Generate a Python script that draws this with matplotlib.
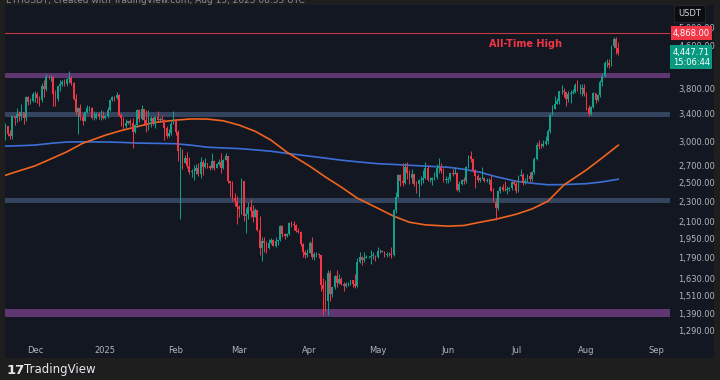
import pandas as pd
import matplotlib
matplotlib.use('Agg')
import matplotlib.pyplot as plt
import matplotlib.dates as mdates
import matplotlib.transforms as mtransforms
from matplotlib.patches import Rectangle
from matplotlib.ticker import FixedLocator, FuncFormatter, NullLocator

# ETH/USDT daily candles, 2024-11-18 .. 2025-08-15
start_date = '2024-11-18'
first_open = 3075

closes = [
    # Nov
    3210, 3105, 3070, 3355, 3327, 3395, 3360, 3415, 3325, 3655, 3580, 3590, 3705,
    # Dec
    3715, 3645, 3615, 3835, 3785, 4005, 4000, 4005, 3710, 3625, 3835, 3880, 3905, 3870, 3960, 3985,
    3890, 3630, 3420, 3480, 3340, 3280, 3420, 3490, 3490, 3330, 3335, 3395, 3355, 3355, 3330,
    # Jan
    3355, 3450, 3605, 3655, 3635, 3685, 3380, 3325, 3220, 3265, 3280, 3265, 3135, 3225, 3450, 3310,
    3475, 3305, 3215, 3285, 3330, 3245, 3340, 3305, 3315, 3300, 3180, 3080, 3115, 3245, 3300,
    # Feb
    3125, 2870, 2880, 2730, 2785, 2685, 2620, 2630, 2630, 2660, 2600, 2740, 2675, 2725, 2695, 2660,
    2745, 2670, 2715, 2740, 2665, 2765, 2815, 2510, 2490, 2335, 2305, 2235,
    # Mar
    2215, 2520, 2150, 2170, 2240, 2200, 2140, 2205, 2020, 1865, 1920, 1910, 1865, 1910, 1935, 1885,
    1925, 1930, 2055, 1985, 1965, 1985, 2085, 2080, 2065, 2010, 2000, 1895, 1830, 1805, 1820,
    # Apr
    1905, 1795, 1815, 1815, 1805, 1580, 1555, 1470, 1670, 1520, 1565, 1645, 1595, 1625, 1585, 1575,
    1585, 1585, 1615, 1585, 1575, 1755, 1795, 1770, 1785, 1790, 1790, 1800, 1800, 1795,
    # May
    1840, 1840, 1835, 1805, 1815, 1815, 1810, 2205, 2345, 2580, 2515, 2490, 2680, 2610, 2545, 2595,
    2485, 2480, 2525, 2525, 2550, 2665, 2525, 2530, 2550, 2565, 2660, 2680, 2635, 2530, 2530,
    # Jun
    2540, 2610, 2595, 2610, 2415, 2485, 2525, 2510, 2680, 2815, 2770, 2645, 2575, 2525, 2545, 2550,
    2510, 2525, 2525, 2410, 2295, 2230, 2405, 2450, 2420, 2415, 2425, 2435, 2500, 2485,
    # Jul
    2405, 2570, 2585, 2495, 2515, 2575, 2540, 2615, 2770, 2955, 2945, 2940, 2970, 3010, 3140, 3370,
    3475, 3545, 3590, 3755, 3760, 3745, 3620, 3705, 3725, 3740, 3865, 3795, 3795, 3805, 3700,
    # Aug
    3480, 3395, 3495, 3720, 3610, 3685, 3910, 4015, 4255, 4265, 4220, 4600, 4750, 4555, 4447.71,
]

highs = [
    3260, 3220, 3160, 3375, 3360, 3490, 3440, 3540, 3425, 3680, 3680, 3645, 3735,
    3760, 3745, 3670, 3890, 3950, 4060, 4030, 4040, 4010, 3780, 3840, 3945, 3940, 3970, 3975, 4110,
    4010, 3910, 3700, 3500, 3545, 3400, 3435, 3535, 3515, 3500, 3430, 3420, 3425, 3450, 3430,
    3370, 3500, 3620, 3670, 3670, 3745, 3700, 3410, 3350, 3320, 3290, 3320, 3330, 3250, 3470, 3470,
    3525, 3450, 3450, 3460, 3360, 3340, 3365, 3430, 3350, 3370, 3310, 3210, 3170, 3285, 3440,
    3320, 3160, 2925, 2900, 2820, 2860, 2800, 2650, 2700, 2715, 2720, 2800, 2760, 2790, 2730, 2705,
    2850, 2760, 2730, 2775, 2845, 2780, 2855, 2815, 2520, 2510, 2380, 2350,
    2260, 2550, 2520, 2225, 2290, 2320, 2260, 2225, 2205, 2150, 1960, 1960, 1920, 1945, 1950, 1940,
    1955, 1935, 2070, 2070, 1990, 1995, 2095, 2100, 2100, 2075, 2040, 2015, 1910, 1850, 1860,
    1925, 1960, 1830, 1830, 1820, 1810, 1630, 1620, 1690, 1690, 1570, 1650, 1690, 1660, 1640, 1600,
    1600, 1600, 1620, 1620, 1660, 1785, 1830, 1800, 1830, 1810, 1800, 1850, 1835, 1810,
    1875, 1860, 1850, 1840, 1835, 1830, 1870, 2215, 2390, 2590, 2600, 2730, 2720, 2740, 2640, 2650,
    2600, 2520, 2540, 2570, 2640, 2735, 2700, 2560, 2565, 2615, 2715, 2790, 2730, 2670, 2570,
    2560, 2610, 2655, 2680, 2620, 2515, 2535, 2560, 2690, 2830, 2880, 2790, 2650, 2590, 2560, 2680,
    2560, 2550, 2550, 2580, 2435, 2335, 2420, 2460, 2480, 2520, 2455, 2445, 2510, 2525,
    2520, 2580, 2650, 2610, 2550, 2590, 2620, 2635, 2800, 2990, 3015, 2985, 3025, 3080, 3170, 3400,
    3530, 3680, 3650, 3760, 3860, 3810, 3740, 3760, 3770, 3790, 3890, 3940, 3880, 3880, 3870,
    3745, 3525, 3510, 3735, 3720, 3700, 3940, 4075, 4300, 4330, 4330, 4620, 4780, 4790, 4680,
]

lows = [
    3020, 3080, 3040, 3030, 3230, 3270, 3280, 3300, 3250, 3280, 3535, 3540, 3580,
    3570, 3560, 3520, 3580, 3660, 3760, 3960, 3935, 3520, 3520, 3600, 3760, 3840, 3845, 3850, 3890,
    3860, 3610, 3370, 3100, 3300, 3225, 3280, 3410, 3440, 3310, 3300, 3310, 3310, 3300, 3310,
    3310, 3330, 3430, 3590, 3600, 3620, 3360, 3210, 3160, 3190, 3240, 3220, 2920, 3120, 3200, 3275,
    3300, 3240, 3130, 3160, 3200, 3230, 3180, 3290, 3290, 3280, 3020, 3050, 3060, 3090, 3240,
    3085, 2750, 2125, 2650, 2720, 2660, 2590, 2560, 2530, 2600, 2570, 2545, 2580, 2660, 2660, 2640,
    2650, 2640, 2660, 2700, 2610, 2650, 2765, 2490, 2340, 2300, 2250, 2080,
    2140, 2170, 2100, 1995, 2120, 2140, 2090, 2140, 2010, 1810, 1760, 1835, 1820, 1860, 1895, 1880,
    1870, 1890, 1920, 1955, 1940, 1960, 1975, 2050, 2020, 2000, 1990, 1885, 1790, 1780, 1790,
    1820, 1775, 1770, 1790, 1780, 1540, 1385, 1410, 1385, 1470, 1500, 1550, 1570, 1590, 1580, 1540,
    1565, 1575, 1580, 1570, 1560, 1570, 1745, 1730, 1755, 1780, 1780, 1740, 1775, 1760,
    1785, 1820, 1830, 1790, 1790, 1800, 1780, 1800, 2180, 2330, 2460, 2460, 2480, 2540, 2480, 2490,
    2460, 2385, 2340, 2470, 2490, 2540, 2510, 2500, 2470, 2530, 2540, 2610, 2610, 2500, 2490,
    2490, 2510, 2575, 2590, 2400, 2395, 2470, 2480, 2490, 2665, 2740, 2620, 2440, 2500, 2500, 2540,
    2500, 2500, 2480, 2400, 2290, 2110, 2210, 2380, 2410, 2400, 2375, 2410, 2420, 2465,
    2380, 2395, 2570, 2470, 2480, 2505, 2500, 2515, 2600, 2760, 2900, 2910, 2925, 2950, 2960, 3120,
    3370, 3470, 3550, 3540, 3700, 3660, 3520, 3570, 3560, 3710, 3720, 3750, 3710, 3675, 3680,
    3460, 3360, 3370, 3485, 3560, 3595, 3660, 3850, 4000, 4180, 4160, 4200, 4560, 4440, 4420,
]

# moving averages, about once a week
ma_dates = ['2024-11-18', '2024-11-25', '2024-12-01', '2024-12-08', '2024-12-15', '2024-12-22',
            '2025-01-01', '2025-01-08', '2025-01-15', '2025-01-22', '2025-02-01', '2025-02-08',
            '2025-02-15', '2025-02-22', '2025-03-01', '2025-03-08', '2025-03-15', '2025-03-22',
            '2025-04-01', '2025-04-08', '2025-04-15', '2025-04-22', '2025-05-01', '2025-05-08',
            '2025-05-15', '2025-05-22', '2025-06-01', '2025-06-08', '2025-06-15', '2025-06-22',
            '2025-07-01', '2025-07-08', '2025-07-15', '2025-07-22', '2025-08-01', '2025-08-08',
            '2025-08-15']
sma100 = [2580, 2640, 2690, 2775, 2864, 2975, 3085, 3150, 3205, 3262, 3300, 3318,
          3315, 3290, 3227, 3140, 3018, 2860, 2688, 2560, 2447, 2330, 2228, 2150,
          2092, 2068, 2056, 2062, 2092, 2120, 2168, 2220, 2298, 2470, 2643, 2790, 2950]
sma200 = [2938, 2945, 2952, 2975, 2993, 2995, 2993, 2988, 2979, 2975, 2970, 2950,
          2924, 2915, 2906, 2890, 2872, 2845, 2810, 2785, 2760, 2740, 2717, 2708,
          2698, 2688, 2674, 2650, 2616, 2565, 2512, 2490, 2473, 2475, 2485, 2505, 2535]

# support / resistance zones (low, high)
purple_zones = [(3990, 4075), (1370, 1420)]
blue_zones = [(3340, 3420), (2280, 2335)]
ath_price = 4868.00
last_price = 4447.71

# 4,200 sits under the last-price label, so it is left out
price_ticks = [1290, 1390, 1510, 1630, 1790, 1950, 2100, 2300, 2500, 2700, 3000,
               3400, 3800, 4600, 5000]
month_ticks = ['2024-12-01', '2025-01-01', '2025-02-01', '2025-03-01', '2025-04-01',
               '2025-05-01', '2025-06-01', '2025-07-01', '2025-08-01', '2025-09-01']
month_labels = ['Dec', '2025', 'Feb', 'Mar', 'Apr', 'May', 'Jun', 'Jul', 'Aug', 'Sep']

UP = '#12a08c'
DOWN = '#f23645'
PANEL = '#131722'
TXT = '#b2b5be'

dates = pd.date_range(start_date, periods=len(closes), freq='D')
x = mdates.date2num(dates)
opens = [first_open] + closes[:-1]

fig = plt.figure(figsize=(7.2, 3.8), dpi=100, facecolor='#1e1e1e')
panel = Rectangle((5 / 720, 1 - 358 / 380), 709 / 720, 353 / 380,
                  transform=fig.transFigure, facecolor=PANEL, edgecolor='none', zorder=-5)
fig.patches.append(panel)

ax = fig.add_axes([5 / 720, 38 / 380, 665 / 720, 337 / 380], facecolor=PANEL)
ax.set_zorder(1)
ax.set_yscale('log')

for lo, hi in purple_zones:
    ax.axhspan(lo, hi, color='#5e3670', lw=0, zorder=1)
for lo, hi in blue_zones:
    ax.axhspan(lo, hi, color='#34435e', lw=0, zorder=1)
ax.axhline(ath_price, color='#c23a44', lw=0.8, zorder=1)

ma_x = mdates.date2num(pd.to_datetime(ma_dates))
ax.plot(ma_x, sma200, color='#3b6fd6', lw=1.2, zorder=2)
ax.plot(ma_x, sma100, color='#f0641e', lw=1.2, zorder=2)

colors = [UP if c >= o else DOWN for o, c in zip(opens, closes)]
ax.vlines(x, lows, highs, colors=colors, lw=0.7, zorder=3)
bottoms = [min(o, c) for o, c in zip(opens, closes)]
heights = [max(abs(c - o), 4) for o, c in zip(opens, closes)]
ax.bar(x, heights, bottom=bottoms, width=0.78, color=colors, linewidth=0, zorder=4)

ax.text(mdates.date2num(pd.Timestamp('2025-07-05')), 4640, 'All-Time High',
        color=DOWN, fontsize=7, fontweight='bold', ha='center', va='center', zorder=5)

dec1 = mdates.date2num(pd.Timestamp('2024-12-01'))
ax.set_xlim(dec1 - 13.2, dec1 - 13.2 + 293)
ax.set_ylim(1226, 5516)

ax.yaxis.tick_right()
ax.yaxis.set_major_locator(FixedLocator(price_ticks))
ax.yaxis.set_minor_locator(NullLocator())
ax.yaxis.set_major_formatter(FuncFormatter(lambda v, p: f'{v:,.2f}'))
ax.set_xticks(mdates.date2num(pd.to_datetime(month_ticks)))
ax.set_xticklabels(month_labels)
ax.tick_params(axis='y', length=0, pad=6, labelsize=6, labelcolor=TXT)
ax.tick_params(axis='x', length=0, pad=3, labelsize=6, labelcolor=TXT)
for s in ax.spines.values():
    s.set_visible(False)

# price labels on the right scale
trans = mtransforms.blended_transform_factory(ax.transAxes, ax.transData)
ax.text(1.004, ath_price, f'{ath_price:,.2f}', transform=trans, ha='left', va='center',
        fontsize=6, color='white', clip_on=False, zorder=10,
        bbox=dict(boxstyle='square,pad=0.25', fc=DOWN, ec='none'))
ax.text(1.004, 4370, f'{last_price:,.2f}\n15:06:44', transform=trans, ha='left', va='center',
        fontsize=6, color='white', linespacing=1.15, clip_on=False, zorder=10,
        bbox=dict(boxstyle='square,pad=0.3', fc='#089981', ec='none'))
fig.text(678 / 720, 1 - 13.5 / 380, 'USDT', fontsize=6, color='#d1d4dc', ha='left', va='center',
         bbox=dict(boxstyle='square,pad=0.45', fc='#0c0d10', ec='#2a2e39', lw=0.5))

fig.text(0.008, 0.998, 'ETHUSDT, created with TradingView.com, Aug 15, 2025 08:53 UTC',
         fontsize=6.5, color='#8a8d95', va='center')
fig.text(7 / 720, 1 - 370 / 380, '17', fontsize=9.5, fontweight='heavy', color='#e6e8ee',
         va='center')
fig.text(24 / 720, 1 - 370 / 380, 'TradingView', fontsize=8.5, fontweight='medium',
         color='#e6e8ee', va='center')

fig.savefig('out.png', dpi=100, facecolor=fig.get_facecolor())
